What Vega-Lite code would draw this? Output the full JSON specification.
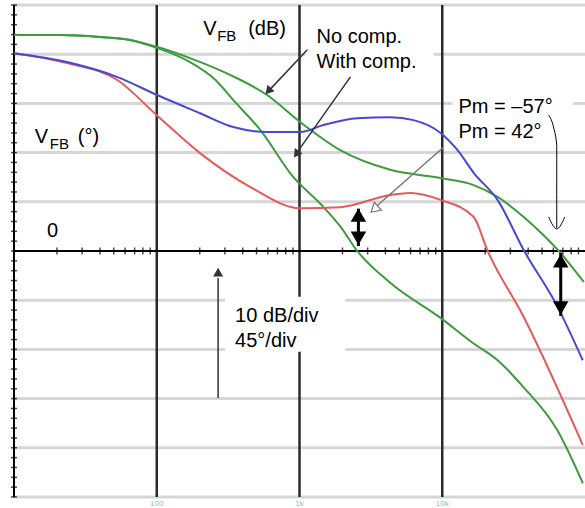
{
  "$schema": "https://vega.github.io/schema/vega-lite/v6.json",
  "width": 571,
  "height": 492,
  "autosize": {"type": "none"},
  "padding": {"left": 14, "top": 5, "right": 0, "bottom": 11},
  "background": "white",
  "config": {"view": {"stroke": null}, "font": "Liberation Sans"},
  "datasets": {
    "hgrid": [{"db": -50}, {"db": -40}, {"db": -30}, {"db": -20}, {"db": -10}, {"db": 10}, {"db": 20}, {"db": 30}, {"db": 40}, {"db": 50}],
    "ytick": [{"db": -50}, {"db": -48}, {"db": -46}, {"db": -44}, {"db": -42}, {"db": -40}, {"db": -38}, {"db": -36}, {"db": -34}, {"db": -32},
              {"db": -30}, {"db": -28}, {"db": -26}, {"db": -24}, {"db": -22}, {"db": -20}, {"db": -18}, {"db": -16}, {"db": -14}, {"db": -12},
              {"db": -10}, {"db": -8}, {"db": -6}, {"db": -4}, {"db": -2}, {"db": 0}, {"db": 2}, {"db": 4}, {"db": 6}, {"db": 8},
              {"db": 10}, {"db": 12}, {"db": 14}, {"db": 16}, {"db": 18}, {"db": 20}, {"db": 22}, {"db": 24}, {"db": 26}, {"db": 28},
              {"db": 30}, {"db": 32}, {"db": 34}, {"db": 36}, {"db": 38}, {"db": 40}, {"db": 42}, {"db": 44}, {"db": 46}, {"db": 48}, {"db": 50}],
    "decades": [{"f": 100, "t": "100"}, {"f": 1000, "t": "1k"}, {"f": 10000, "t": "10k"}],
    "minor": [{"f": 20}, {"f": 30}, {"f": 40}, {"f": 50}, {"f": 60}, {"f": 70}, {"f": 80}, {"f": 90},
              {"f": 200}, {"f": 300}, {"f": 400}, {"f": 500}, {"f": 600}, {"f": 700}, {"f": 800}, {"f": 900},
              {"f": 2000}, {"f": 3000}, {"f": 4000}, {"f": 5000}, {"f": 6000}, {"f": 7000}, {"f": 8000}, {"f": 9000},
              {"f": 20000}, {"f": 30000}, {"f": 40000}, {"f": 50000}, {"f": 60000}, {"f": 70000}, {"f": 80000}, {"f": 90000}],
    "boxes": [
      {"f": 1097, "f2": 8690, "db": 35.8, "db2": 46.5},
      {"f": 11800, "f2": 82100, "db": 21.1, "db2": 31.7},
      {"f": 301, "f2": 2096, "db": -20.5, "db2": -9.3}
    ],
    "curves": [
      {"s": "g1", "f": 10, "db": 43.9}, {"s": "g1", "f": 21, "db": 43.9}, {"s": "g1", "f": 40, "db": 43.5}, {"s": "g1", "f": 65, "db": 42.9},
      {"s": "g1", "f": 100, "db": 41.5}, {"s": "g1", "f": 171, "db": 39.2}, {"s": "g1", "f": 326, "db": 35.8}, {"s": "g1", "f": 593, "db": 31.7},
      {"s": "g1", "f": 1012, "db": 26.2}, {"s": "g1", "f": 1930, "db": 20.5}, {"s": "g1", "f": 4330, "db": 16.5}, {"s": "g1", "f": 9890, "db": 14.8},
      {"s": "g1", "f": 16600, "db": 13.4}, {"s": "g1", "f": 24400, "db": 11.0}, {"s": "g1", "f": 37200, "db": 6.9}, {"s": "g1", "f": 50000, "db": 3.5},
      {"s": "g1", "f": 65500, "db": 0}, {"s": "g1", "f": 98000, "db": -6.3},

      {"s": "g2", "f": 10, "db": 43.9}, {"s": "g2", "f": 21, "db": 43.9}, {"s": "g2", "f": 40, "db": 43.5}, {"s": "g2", "f": 65, "db": 42.9},
      {"s": "g2", "f": 100, "db": 41.3}, {"s": "g2", "f": 171, "db": 38.4}, {"s": "g2", "f": 257, "db": 34.8}, {"s": "g2", "f": 343, "db": 30.7},
      {"s": "g2", "f": 531, "db": 24.6}, {"s": "g2", "f": 906, "db": 15.0}, {"s": "g2", "f": 1400, "db": 9.6}, {"s": "g2", "f": 1930, "db": 5.0},
      {"s": "g2", "f": 2540, "db": 0}, {"s": "g2", "f": 4340, "db": -6.5}, {"s": "g2", "f": 9730, "db": -13.6}, {"s": "g2", "f": 16400, "db": -18.7},
      {"s": "g2", "f": 24400, "db": -22.2}, {"s": "g2", "f": 36900, "db": -27.6}, {"s": "g2", "f": 63900, "db": -36.4}, {"s": "g2", "f": 96600, "db": -47.2},

      {"s": "r", "f": 10, "db": 40.2}, {"s": "r", "f": 23.5, "db": 38.2}, {"s": "r", "f": 52.6, "db": 34.8}, {"s": "r", "f": 100, "db": 27.6},
      {"s": "r", "f": 201, "db": 19.9}, {"s": "r", "f": 453, "db": 13.0}, {"s": "r", "f": 1012, "db": 8.7}, {"s": "r", "f": 1930, "db": 8.9},
      {"s": "r", "f": 4330, "db": 11.4}, {"s": "r", "f": 5990, "db": 11.8}, {"s": "r", "f": 9730, "db": 10.4}, {"s": "r", "f": 16600, "db": 6.9},
      {"s": "r", "f": 20800, "db": 0}, {"s": "r", "f": 37200, "db": -13.4}, {"s": "r", "f": 96400, "db": -39.4},

      {"s": "b", "f": 10, "db": 40.2}, {"s": "b", "f": 23.5, "db": 38.4}, {"s": "b", "f": 52.6, "db": 35.4}, {"s": "b", "f": 100.5, "db": 31.7},
      {"s": "b", "f": 201, "db": 28.0}, {"s": "b", "f": 343, "db": 25.2}, {"s": "b", "f": 594, "db": 24.2}, {"s": "b", "f": 1012, "db": 24.2},
      {"s": "b", "f": 1470, "db": 25.6}, {"s": "b", "f": 2540, "db": 27.0}, {"s": "b", "f": 4340, "db": 27.2}, {"s": "b", "f": 6290, "db": 26.6},
      {"s": "b", "f": 9730, "db": 24.0}, {"s": "b", "f": 12800, "db": 20.5}, {"s": "b", "f": 16600, "db": 15.9}, {"s": "b", "f": 24400, "db": 10.4},
      {"s": "b", "f": 37200, "db": 0.2}, {"s": "b", "f": 64400, "db": -11.4}, {"s": "b", "f": 96400, "db": -22.2}
    ],
    "arrowsDark": [
      {"id": "nc", "o": 1, "f": 1135, "db": 40.9}, {"id": "nc", "o": 2, "f": 620, "db": 32.8},
      {"id": "wc", "o": 1, "f": 2274, "db": 35.4}, {"id": "wc", "o": 2, "f": 960, "db": 20.0},
      {"id": "v", "o": 1, "f": 269, "db": -29.9}, {"id": "v", "o": 2, "f": 269, "db": -5.5}
    ],
    "arrowsGrey": [
      {"id": "p", "o": 1, "f": 10200, "db": 21.1}, {"id": "p", "o": 2, "f": 3400, "db": 8.9}
    ],
    "arrowsThick": [
      {"id": "d1", "o": 1, "f": 2586, "db": 8.6}, {"id": "d1", "o": 2, "f": 2586, "db": 1.0},
      {"id": "d2", "o": 1, "f": 67600, "db": -0.4}, {"id": "d2", "o": 2, "f": 67600, "db": -13.2}
    ],
    "arrowsThin": [
      {"id": "t", "o": 1, "f": 55700, "db": 27.6}, {"id": "t", "o": 2, "f": 60400, "db": 25.0}, {"id": "t", "o": 3, "f": 63400, "db": 21.5}, {"id": "t", "o": 4, "f": 63400, "db": 4.6},
      {"id": "tv", "o": 1, "f": 55700, "db": 6.9}, {"id": "tv", "o": 2, "f": 63400, "db": 4.5}, {"id": "tv", "o": 3, "f": 72100, "db": 6.9}
    ],
    "headNc": [{"f": 604, "db": 32.5}],
    "headWc": [{"f": 950, "db": 19.7}],
    "headV": [{"f": 269, "db": -4.3}],
    "headP": [{"f": 3350, "db": 8.5}],
    "headUp": [{"f": 2586, "db": 7.3}, {"f": 67600, "db": -2.0}],
    "headDown": [{"f": 2586, "db": 2.6}, {"f": 67600, "db": -11.6}],
    "labels": [
      {"t": "V", "f": 212, "db": 43.9},
      {"t": "(dB)", "f": 437, "db": 43.9},
      {"t": "No comp.", "f": 1316, "db": 42.3},
      {"t": "With comp.", "f": 1316, "db": 37.2},
      {"t": "Pm = –57°", "f": 13000, "db": 28.0},
      {"t": "Pm = 42°", "f": 13000, "db": 23.0},
      {"t": "V", "f": 14.0, "db": 22.0},
      {"t": "(°)", "f": 28, "db": 22.0},
      {"t": "0", "f": 17.0, "db": 2.8},
      {"t": "10 dB/div", "f": 354, "db": -14.4},
      {"t": "45°/div", "f": 354, "db": -19.5}
    ],
    "subs": [
      {"t": "FB", "f": 265, "db": 42.7},
      {"t": "FB", "f": 17.8, "db": 20.7}
    ]
  },
  "layer": [
    {
      "data": {"name": "hgrid"},
      "mark": {"type": "rule", "color": "#d6d6d6", "strokeWidth": 3},
      "encoding": {
        "y": {"field": "db", "type": "quantitative", "scale": {"domain": [-50, 50], "nice": false}, "axis": null}
      }
    },
    {
      "data": {"name": "decades"},
      "mark": {"type": "rule", "color": "#2a2a2a", "strokeWidth": 2.5},
      "encoding": {
        "x": {"field": "f", "type": "quantitative", "scale": {"type": "log", "domain": [10, 100000], "nice": false}, "axis": null}
      }
    },
    {
      "data": {"name": "decades"},
      "mark": {"type": "text", "align": "center", "baseline": "top", "dy": 3, "fontSize": 8, "color": "#8cc98c", "font": "Liberation Sans"},
      "encoding": {
        "x": {"field": "f", "type": "quantitative", "scale": {"type": "log", "domain": [10, 100000], "nice": false}, "axis": null},
        "y": {"datum": -50, "type": "quantitative", "scale": {"domain": [-50, 50], "nice": false}, "axis": null},
        "text": {"field": "t"}
      }
    },
    {
      "data": {"name": "decades"},
      "mark": {"type": "rule", "color": "black", "strokeWidth": 2},
      "encoding": {
        "y": {"datum": 0, "type": "quantitative", "scale": {"domain": [-50, 50], "nice": false}, "axis": null}
      }
    },
    {
      "data": {"name": "decades"},
      "mark": {"type": "rule", "color": "black", "strokeWidth": 2},
      "encoding": {
        "x": {"datum": 10, "type": "quantitative", "scale": {"type": "log", "domain": [10, 100000], "nice": false}, "axis": null}
      }
    },
    {
      "data": {"name": "ytick"},
      "mark": {"type": "tick", "orient": "horizontal", "color": "black", "size": 6, "thickness": 1.5},
      "encoding": {
        "x": {"datum": 10, "type": "quantitative", "scale": {"type": "log", "domain": [10, 100000], "nice": false}, "axis": null},
        "y": {"field": "db", "type": "quantitative", "scale": {"domain": [-50, 50], "nice": false}, "axis": null}
      }
    },
    {
      "data": {"name": "minor"},
      "mark": {"type": "tick", "orient": "vertical", "color": "black", "size": 7, "thickness": 1.5},
      "encoding": {
        "x": {"field": "f", "type": "quantitative", "scale": {"type": "log", "domain": [10, 100000], "nice": false}, "axis": null},
        "y": {"datum": 0, "type": "quantitative", "scale": {"domain": [-50, 50], "nice": false}, "axis": null}
      }
    },
    {
      "data": {"name": "boxes"},
      "mark": {"type": "rect", "color": "white"},
      "encoding": {
        "x": {"field": "f", "type": "quantitative", "scale": {"type": "log", "domain": [10, 100000], "nice": false}, "axis": null},
        "x2": {"field": "f2"},
        "y": {"field": "db", "type": "quantitative", "scale": {"domain": [-50, 50], "nice": false}, "axis": null},
        "y2": {"field": "db2"}
      }
    },
    {
      "data": {"name": "curves"},
      "mark": {"type": "line", "strokeWidth": 2, "interpolate": "monotone"},
      "encoding": {
        "x": {"field": "f", "type": "quantitative", "scale": {"type": "log", "domain": [10, 100000], "nice": false}, "axis": null},
        "y": {"field": "db", "type": "quantitative", "scale": {"domain": [-50, 50], "nice": false}, "axis": null},
        "color": {"field": "s", "type": "nominal", "scale": {"domain": ["g1", "g2", "r", "b"], "range": ["#3f9b3f", "#3f9b3f", "#e55b5b", "#4848d6"]}, "legend": null},
        "detail": {"field": "s"}
      }
    },
    {
      "data": {"name": "arrowsDark"},
      "mark": {"type": "line", "color": "#333333", "strokeWidth": 1.5},
      "encoding": {
        "x": {"field": "f", "type": "quantitative", "scale": {"type": "log", "domain": [10, 100000], "nice": false}, "axis": null},
        "y": {"field": "db", "type": "quantitative", "scale": {"domain": [-50, 50], "nice": false}, "axis": null},
        "detail": {"field": "id"},
        "order": {"field": "o"}
      }
    },
    {
      "data": {"name": "arrowsGrey"},
      "mark": {"type": "line", "color": "#777777", "strokeWidth": 1.5},
      "encoding": {
        "x": {"field": "f", "type": "quantitative", "scale": {"type": "log", "domain": [10, 100000], "nice": false}, "axis": null},
        "y": {"field": "db", "type": "quantitative", "scale": {"domain": [-50, 50], "nice": false}, "axis": null},
        "detail": {"field": "id"},
        "order": {"field": "o"}
      }
    },
    {
      "data": {"name": "arrowsThick"},
      "mark": {"type": "line", "color": "black", "strokeWidth": 3},
      "encoding": {
        "x": {"field": "f", "type": "quantitative", "scale": {"type": "log", "domain": [10, 100000], "nice": false}, "axis": null},
        "y": {"field": "db", "type": "quantitative", "scale": {"domain": [-50, 50], "nice": false}, "axis": null},
        "detail": {"field": "id"},
        "order": {"field": "o"}
      }
    },
    {
      "data": {"name": "arrowsThin"},
      "mark": {"type": "line", "color": "black", "strokeWidth": 1, "interpolate": "monotone"},
      "encoding": {
        "x": {"field": "f", "type": "quantitative", "scale": {"type": "log", "domain": [10, 100000], "nice": false}, "axis": null},
        "y": {"field": "db", "type": "quantitative", "scale": {"domain": [-50, 50], "nice": false}, "axis": null},
        "detail": {"field": "id"},
        "order": {"field": "o"}
      }
    },
    {
      "data": {"name": "headNc"},
      "mark": {"type": "point", "shape": "triangle-up", "angle": 222, "size": 90, "filled": true, "color": "#333333", "opacity": 1},
      "encoding": {
        "x": {"field": "f", "type": "quantitative", "scale": {"type": "log", "domain": [10, 100000], "nice": false}, "axis": null},
        "y": {"field": "db", "type": "quantitative", "scale": {"domain": [-50, 50], "nice": false}, "axis": null}
      }
    },
    {
      "data": {"name": "headWc"},
      "mark": {"type": "point", "shape": "triangle-up", "angle": 215, "size": 90, "filled": true, "color": "#333333", "opacity": 1},
      "encoding": {
        "x": {"field": "f", "type": "quantitative", "scale": {"type": "log", "domain": [10, 100000], "nice": false}, "axis": null},
        "y": {"field": "db", "type": "quantitative", "scale": {"domain": [-50, 50], "nice": false}, "axis": null}
      }
    },
    {
      "data": {"name": "headV"},
      "mark": {"type": "point", "shape": "triangle-up", "size": 100, "filled": true, "color": "#333333", "opacity": 1},
      "encoding": {
        "x": {"field": "f", "type": "quantitative", "scale": {"type": "log", "domain": [10, 100000], "nice": false}, "axis": null},
        "y": {"field": "db", "type": "quantitative", "scale": {"domain": [-50, 50], "nice": false}, "axis": null}
      }
    },
    {
      "data": {"name": "headP"},
      "mark": {"type": "point", "shape": "triangle-up", "angle": 228, "size": 110, "filled": true, "fill": "white", "stroke": "#777777", "strokeWidth": 1.2, "opacity": 1},
      "encoding": {
        "x": {"field": "f", "type": "quantitative", "scale": {"type": "log", "domain": [10, 100000], "nice": false}, "axis": null},
        "y": {"field": "db", "type": "quantitative", "scale": {"domain": [-50, 50], "nice": false}, "axis": null}
      }
    },
    {
      "data": {"name": "headUp"},
      "mark": {"type": "point", "shape": "triangle-up", "size": 240, "filled": true, "color": "black", "opacity": 1},
      "encoding": {
        "x": {"field": "f", "type": "quantitative", "scale": {"type": "log", "domain": [10, 100000], "nice": false}, "axis": null},
        "y": {"field": "db", "type": "quantitative", "scale": {"domain": [-50, 50], "nice": false}, "axis": null}
      }
    },
    {
      "data": {"name": "headDown"},
      "mark": {"type": "point", "shape": "triangle-down", "size": 240, "filled": true, "color": "black", "opacity": 1},
      "encoding": {
        "x": {"field": "f", "type": "quantitative", "scale": {"type": "log", "domain": [10, 100000], "nice": false}, "axis": null},
        "y": {"field": "db", "type": "quantitative", "scale": {"domain": [-50, 50], "nice": false}, "axis": null}
      }
    },
    {
      "data": {"name": "labels"},
      "mark": {"type": "text", "align": "left", "baseline": "alphabetic", "font": "Liberation Sans", "fontSize": 20, "color": "black"},
      "encoding": {
        "x": {"field": "f", "type": "quantitative", "scale": {"type": "log", "domain": [10, 100000], "nice": false}, "axis": null},
        "y": {"field": "db", "type": "quantitative", "scale": {"domain": [-50, 50], "nice": false}, "axis": null},
        "text": {"field": "t"}
      }
    },
    {
      "data": {"name": "subs"},
      "mark": {"type": "text", "align": "left", "baseline": "alphabetic", "font": "Liberation Sans", "fontSize": 15, "color": "black"},
      "encoding": {
        "x": {"field": "f", "type": "quantitative", "scale": {"type": "log", "domain": [10, 100000], "nice": false}, "axis": null},
        "y": {"field": "db", "type": "quantitative", "scale": {"domain": [-50, 50], "nice": false}, "axis": null},
        "text": {"field": "t"}
      }
    }
  ]
}
